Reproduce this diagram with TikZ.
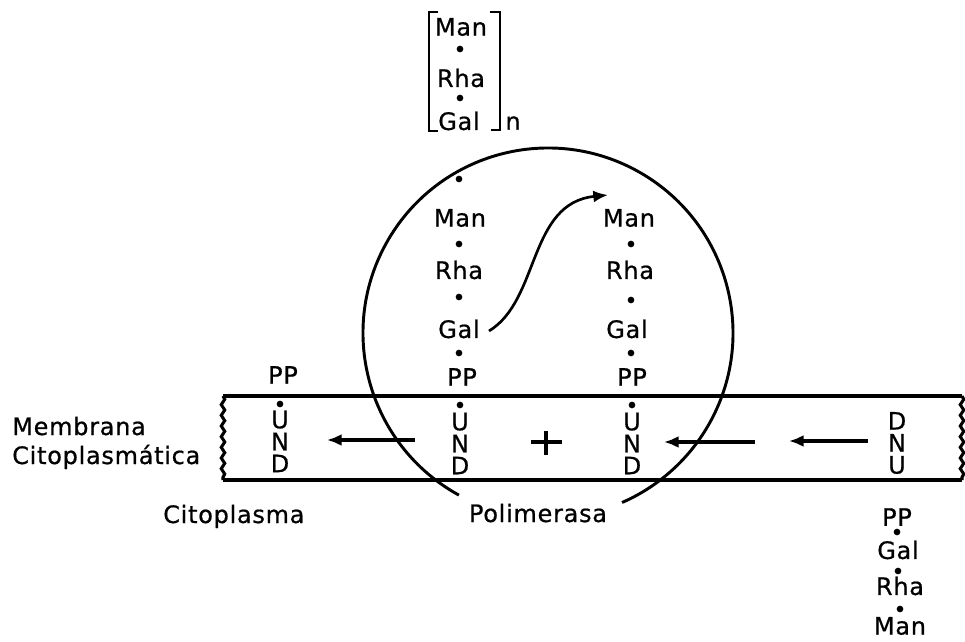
\documentclass[tikz,border=0pt]{standalone}
\usepackage{fontspec}
\setmainfont{DejaVu Sans}[FakeBold=0.7, LetterSpace=3]
\usetikzlibrary{arrows.meta,decorations.pathmorphing}
\begin{document}
\begin{tikzpicture}[x=0.75pt,y=-0.75pt,
  lbl/.style={font=\fontsize{18}{20}\selectfont, inner sep=0pt},
  stack/.style={font=\fontsize{18}{16.5}\selectfont, inner sep=0pt, align=center},
  bond/.style={circle, fill=black, inner sep=0pt, minimum size=5pt},
  membr/.style={line width=2.5pt},
  wavy/.style={line width=2.3pt, decorate, decoration={snake, amplitude=1.3pt, segment length=8pt}},
  flow/.style={line width=2.6pt, -{Latex[length=11pt,width=9pt]}},
  swing/.style={line width=2pt, -{Latex[length=11pt,width=9pt]}},
  brk/.style={line width=2pt},
  enz/.style={line width=2.2pt}]
\useasboundingbox (0,0) rectangle (965,642);

% membrane
\draw[membr] (223,396) -- (962,396);
\draw[membr] (223,480) -- (962,480);
\draw[wavy] (223,396) -- (223,480);
\draw[wavy] (962,396) -- (962,480);

% polymerase circle (open at the bottom)
\draw[enz] (548,333) ++(118.8:185) arc[start angle=118.8, end angle=426.4, radius=185];

% repeating unit in brackets
\node[lbl] (tman) at (461,27) {Man};
\node[bond] (tb1) at (460,49) {};
\node[lbl] (trha) at (461,78) {Rha};
\node[bond] (tb2) at (460,98) {};
\node[lbl] (tgal) at (459,121) {Gal};
\draw[brk] (438,12) -- (429,12) -- (429,131) -- (438,131);
\draw[brk] (490,12) -- (500,12) -- (500,130) -- (491,130);
\node[lbl] (tn) at (513,123) {n};

% column 1
\node[bond] (ad0) at (459,179) {};
\node[lbl] (aman) at (460,218) {Man};
\node[bond] (ad1) at (459,244) {};
\node[lbl] (arha) at (459,270) {Rha};
\node[bond] (ad2) at (459,297) {};
\node[lbl] (agal) at (459,329) {Gal};
\node[bond] (ad3) at (459,353) {};
\node[lbl] (app) at (462,377) {PP};
\node[bond] (ad4) at (460,405) {};
\node[stack] (aund) at (460,443.5) {U\\N\\D};

% column 2
\node[lbl] (bman) at (629,218) {Man};
\node[bond] (bd1) at (631,244) {};
\node[lbl] (brha) at (630,270) {Rha};
\node[bond] (bd2) at (631,300) {};
\node[lbl] (bgal) at (627,329) {Gal};
\node[bond] (bd3) at (631,353) {};
\node[lbl] (bpp) at (632,377) {PP};
\node[bond] (bd4) at (632,405) {};
\node[stack] (bund) at (632,443.5) {U\\N\\D};

% left column
\node[lbl] (lpp) at (283,375) {PP};
\node[bond] (ld0) at (280,404) {};
\node[stack] (lund) at (280,441.5) {U\\N\\D};

% right column (DNU)
\node[stack] (rdnu) at (897,443) {D\\N\\U};

% bottom right chain
\node[lbl] (cpp) at (897,517) {PP};
\node[bond] (cd1) at (897,532) {};
\node[lbl] (cgal) at (898,550) {Gal};
\node[bond] (cd2) at (898,571) {};
\node[lbl] (crha) at (900,586) {Rha};
\node[bond] (cd3) at (900,609) {};
\node[lbl] (cman) at (900,626) {Man};

% plus
\draw[line width=3.2pt] (531,442) -- (562,442);
\draw[line width=3.2pt] (546,431) -- (546,455);

% arrows
\coordinate (a1s) at (415,440); \coordinate (a1e) at (327,440);
\draw[flow] (a1s) -- (a1e);
\coordinate (a2s) at (755,442); \coordinate (a2e) at (664,442);
\draw[flow] (a2s) -- (a2e);
\coordinate (a3s) at (868,441); \coordinate (a3e) at (789,441);
\draw[flow] (a3s) -- (a3e);
\coordinate (cs) at (489,331); \coordinate (ce) at (608,195);
\draw[swing] (cs) .. controls (540,300) and (528,203) .. (ce);

% labels
\node[lbl, anchor=base west] (memb) at (12,435) {Membrana};
\node[lbl, anchor=base west] (cito) at (12,464) {Citoplasmática};
\node[lbl, anchor=base west] (citopl) at (163,523) {Citoplasma};
\node[lbl, anchor=base] (pol) at (538,522) {Polimerasa};
\end{tikzpicture}
\end{document}
